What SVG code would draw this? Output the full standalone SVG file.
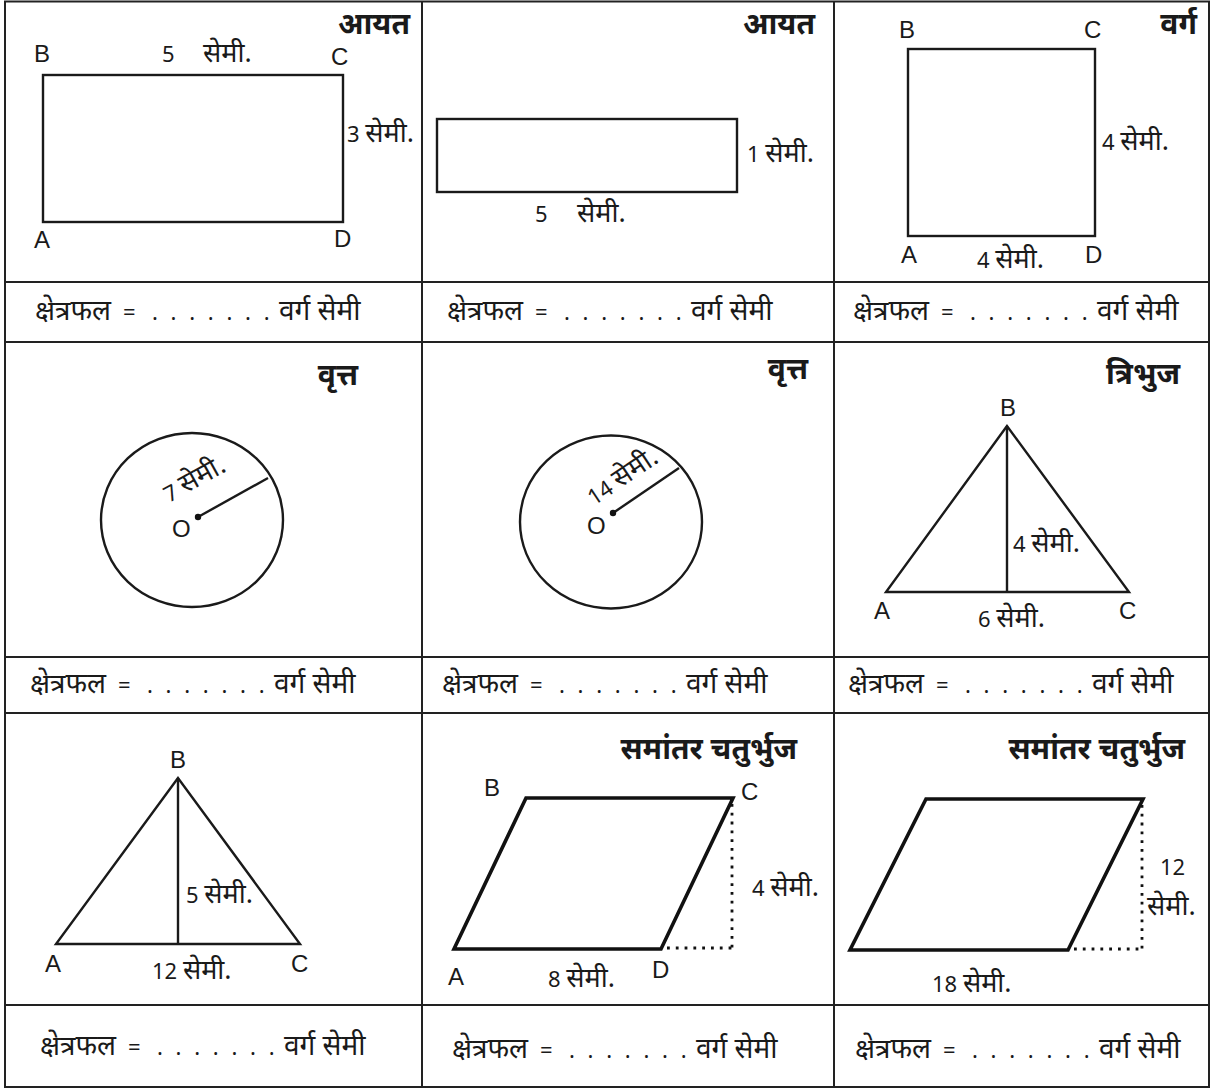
<svg xmlns="http://www.w3.org/2000/svg" width="1212" height="1089" viewBox="0 0 1212 1089">
<style>
.grid{stroke:#222;stroke-width:2;fill:none}
.sh{stroke:#1a1a1a;stroke-width:2.4;fill:none}
.thick{stroke:#111;stroke-width:3.6;fill:none;stroke-linejoin:miter}
.dot{stroke:#111;stroke-width:2.8;fill:none;stroke-dasharray:2.8 6}
text{font-family:"Noto Sans","Noto Sans Devanagari",sans-serif;font-size:22px;fill:#1a1a1a}
.d{font-size:27px}
.lt{font-family:"Liberation Sans",Arial,sans-serif;font-size:24px}
.ttl{font-weight:bold;font-size:30px;text-anchor:end}
.ad{font-size:28px}
.dots{letter-spacing:3.5px}
</style>
<defs>
<g id="areaText">
<text class="ad" x="0" y="0">क्षेत्रफल</text>
<text x="88" y="0">=</text>
<text class="dots" x="117" y="0">. . . . . . .</text>
<text class="ad" x="244" y="0">वर्ग सेमी</text>
</g>
</defs>
<rect width="1212" height="1089" fill="#fff"/>
<g id="grid">
<rect class="grid" x="5" y="1.5" width="1204" height="1085.5"/>
<line class="grid" x1="422" y1="1" x2="422" y2="1087"/>
<line class="grid" x1="834" y1="1" x2="834" y2="1087"/>
<line class="grid" x1="5" y1="282" x2="1209" y2="282"/>
<line class="grid" x1="5" y1="342" x2="1209" y2="342"/>
<line class="grid" x1="5" y1="657" x2="1209" y2="657"/>
<line class="grid" x1="5" y1="713" x2="1209" y2="713"/>
<line class="grid" x1="5" y1="1005" x2="1209" y2="1005"/>
</g>
<g id="rect1">
<rect class="sh" x="43" y="75" width="300" height="147"/>
<text class="ttl" x="410" y="34">आयत</text>
<text class="lt" x="34" y="62">B</text>
<text x="162" y="62">5</text><text class="d" x="203" y="62">सेमी.</text>
<text class="lt" x="331" y="65">C</text>
<text x="347" y="142">3 <tspan class="d">सेमी.</tspan></text>
<text class="lt" x="34" y="248">A</text>
<text class="lt" x="334" y="247">D</text>
</g>
<g id="rect2">
<rect class="sh" x="437" y="119" width="300" height="73"/>
<text class="ttl" x="815" y="34">आयत</text>
<text x="747" y="162">1 <tspan class="d">सेमी.</tspan></text>
<text x="535" y="222">5</text><text class="d" x="577" y="222">सेमी.</text>
</g>
<g id="square">
<rect class="sh" x="908" y="49" width="187" height="187"/>
<text class="ttl" x="1197" y="34">वर्ग</text>
<text class="lt" x="899" y="38">B</text>
<text class="lt" x="1084" y="38">C</text>
<text x="1102" y="150">4 <tspan class="d">सेमी.</tspan></text>
<text class="lt" x="901" y="263">A</text>
<text x="977" y="268">4 <tspan class="d">सेमी.</tspan></text>
<text class="lt" x="1085" y="263">D</text>
</g>
<g id="area-row1">
<use href="#areaText" x="35" y="320"/>
<use href="#areaText" x="447" y="320"/>
<use href="#areaText" x="853" y="320"/>
</g>
<g id="circle1">
<ellipse class="sh" cx="192" cy="520" rx="91" ry="87"/>
<line class="sh" x1="198" y1="517" x2="268" y2="478"/>
<circle cx="198" cy="517" r="3.2" fill="#111"/>
<text class="lt" x="172" y="537">O</text>
<text transform="translate(169,503) rotate(-29)">7 <tspan class="d">सेमी.</tspan></text>
<text class="ttl" x="358" y="385">वृत्त</text>
</g>
<g id="circle2">
<ellipse class="sh" cx="611" cy="522" rx="91" ry="86.5"/>
<line class="sh" x1="613" y1="513" x2="679" y2="468"/>
<circle cx="613" cy="513" r="3.2" fill="#111"/>
<text class="lt" x="587" y="534">O</text>
<text transform="translate(594,506) rotate(-34)">14 <tspan class="d">सेमी.</tspan></text>
<text class="ttl" x="808" y="379">वृत्त</text>
</g>
<g id="triangle1">
<polygon class="sh" points="1007,426 886,592 1129,592"/>
<line class="sh" x1="1007" y1="426" x2="1007" y2="592"/>
<text class="ttl" x="1180" y="384">त्रिभुज</text>
<text class="lt" x="1000" y="416">B</text>
<text x="1013" y="552">4 <tspan class="d">सेमी.</tspan></text>
<text class="lt" x="874" y="619">A</text>
<text x="978" y="627">6 <tspan class="d">सेमी.</tspan></text>
<text class="lt" x="1119" y="619">C</text>
</g>
<g id="area-row2">
<use href="#areaText" x="30" y="693"/>
<use href="#areaText" x="442" y="693"/>
<use href="#areaText" x="848" y="693"/>
</g>
<g id="triangle2">
<polygon class="sh" points="178,778 56,944 300,944"/>
<line class="sh" x1="178" y1="778" x2="178" y2="944"/>
<text class="lt" x="170" y="768">B</text>
<text x="186" y="903">5 <tspan class="d">सेमी.</tspan></text>
<text class="lt" x="45" y="972">A</text>
<text x="152" y="979">12 <tspan class="d">सेमी.</tspan></text>
<text class="lt" x="291" y="972">C</text>
</g>
<g id="parallelogram1">
<polygon class="thick" points="526,798 733,798 661,949 454,949"/>
<line class="dot" x1="732" y1="804" x2="732" y2="948"/>
<line class="dot" x1="667" y1="948" x2="732" y2="948"/>
<text class="ttl" x="797" y="759">समांतर चतुर्भुज</text>
<text class="lt" x="484" y="796">B</text>
<text class="lt" x="741" y="800">C</text>
<text x="752" y="896">4 <tspan class="d">सेमी.</tspan></text>
<text class="lt" x="448" y="985">A</text>
<text x="548" y="987">8 <tspan class="d">सेमी.</tspan></text>
<text class="lt" x="652" y="978">D</text>
</g>
<g id="parallelogram2">
<polygon class="thick" points="926,799 1143,799 1068,950 850,950"/>
<line class="dot" x1="1142" y1="805" x2="1142" y2="949"/>
<line class="dot" x1="1074" y1="949" x2="1142" y2="949"/>
<text class="ttl" x="1185" y="759">समांतर चतुर्भुज</text>
<text x="1160" y="875">12</text>
<text class="d" x="1147" y="915">सेमी.</text>
<text x="932" y="992">18 <tspan class="d">सेमी.</tspan></text>
</g>
<g id="area-row3">
<use href="#areaText" x="40" y="1055"/>
<use href="#areaText" x="452" y="1058"/>
<use href="#areaText" x="855" y="1058"/>
</g>
</svg>
